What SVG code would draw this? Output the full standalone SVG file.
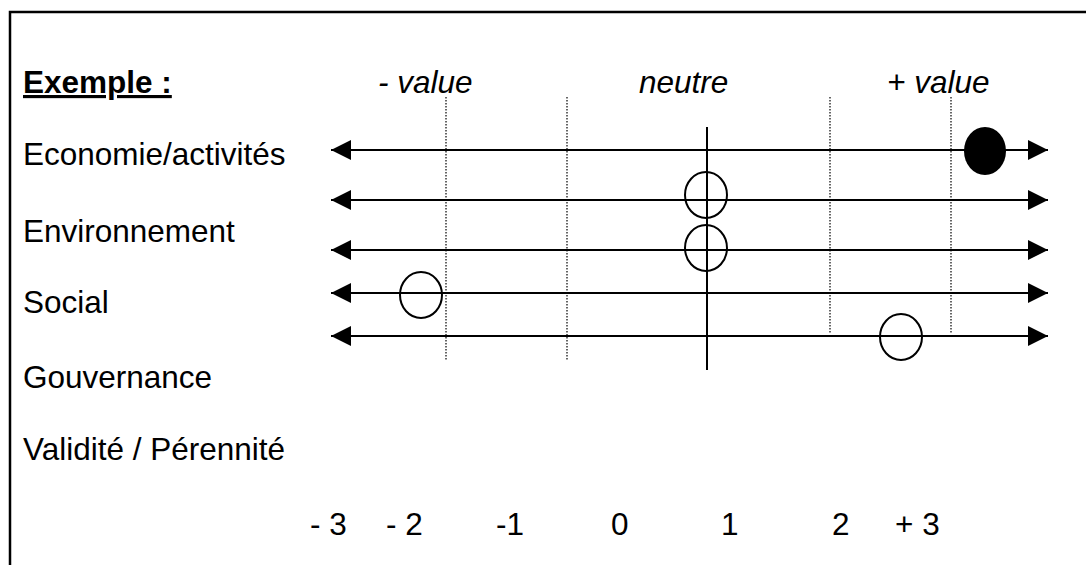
<svg xmlns="http://www.w3.org/2000/svg" width="1086" height="565" viewBox="0 0 1086 565">
<defs>
<style>
.t{font-family:"Liberation Sans",Arial,sans-serif;font-size:31.5px;fill:#000}
.i{font-style:italic}
.ax{stroke:#000;stroke-width:2;fill:none}
.dot{stroke:#000;stroke-width:1.2;stroke-dasharray:1.5 1.5;fill:none}
.c{stroke:#000;stroke-width:2;fill:none}
</style>
<marker id="ah" viewBox="0 0 20 20" refX="20" refY="10" markerWidth="20" markerHeight="20" markerUnits="userSpaceOnUse" orient="auto-start-reverse">
<path d="M0,0 L20,10 L0,20 Z" fill="#000"/>
</marker>
</defs>
<rect width="1086" height="565" fill="#fff"/>
<path d="M10,565 V12 H1086" stroke="#000" stroke-width="2.5" fill="none"/>
<g id="labels">
<text class="t" x="23" y="93" font-weight="bold" text-decoration="underline">Exemple :</text>
<text class="t i" x="378" y="93">- value</text>
<text class="t i" x="639" y="93">neutre</text>
<text class="t i" x="887" y="93">+ value</text>
<text class="t" x="23" y="165">Economie/activités</text>
<text class="t" x="23" y="242">Environnement</text>
<text class="t" x="23" y="313">Social</text>
<text class="t" x="23" y="388">Gouvernance</text>
<text class="t" x="23" y="460">Validité / Pérennité</text>
<text class="t" x="310" y="535">- 3</text>
<text class="t" x="386" y="535">- 2</text>
<text class="t" x="496" y="535">-1</text>
<text class="t" x="611" y="535">0</text>
<text class="t" x="721" y="535">1</text>
<text class="t" x="832" y="535">2</text>
<text class="t" x="895" y="535">+ 3</text>
</g>
<g id="connectors">
<line class="dot" x1="446" y1="97" x2="446" y2="360"/>
<line class="dot" x1="567" y1="97" x2="567" y2="360"/>
<line class="dot" x1="830" y1="97" x2="830" y2="333"/>
<line class="dot" x1="951" y1="97" x2="951" y2="333"/>
<line class="ax" x1="707" y1="127" x2="707" y2="370"/>
<line class="ax" x1="331" y1="150" x2="1048" y2="150" marker-start="url(#ah)" marker-end="url(#ah)"/>
<line class="ax" x1="331" y1="200" x2="1048" y2="200" marker-start="url(#ah)" marker-end="url(#ah)"/>
<line class="ax" x1="331" y1="250" x2="1048" y2="250" marker-start="url(#ah)" marker-end="url(#ah)"/>
<line class="ax" x1="331" y1="293" x2="1048" y2="293" marker-start="url(#ah)" marker-end="url(#ah)"/>
<line class="ax" x1="331" y1="336" x2="1048" y2="336" marker-start="url(#ah)" marker-end="url(#ah)"/>
</g>
<g id="eco"><ellipse cx="985" cy="151" rx="21" ry="24" fill="#000"/></g>
<g id="env1"><ellipse class="c" cx="706" cy="195" rx="21" ry="23"/></g>
<g id="env2"><ellipse class="c" cx="706" cy="248" rx="21" ry="23"/></g>
<g id="soc"><ellipse class="c" cx="421" cy="295" rx="21" ry="23"/></g>
<g id="gov"><ellipse class="c" cx="901" cy="337" rx="21" ry="23"/></g>
</svg>
